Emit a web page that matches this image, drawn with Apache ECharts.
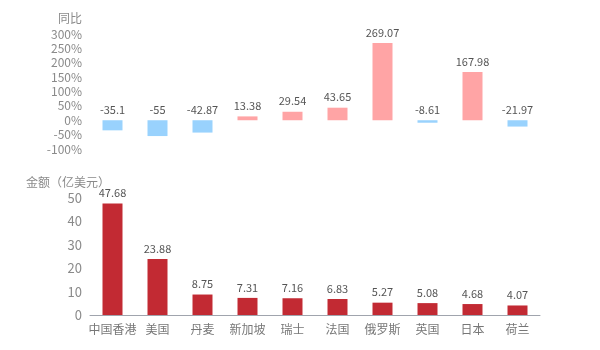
<!DOCTYPE html>
<html>
<head>
<meta charset="utf-8">
<script src="https://cdn.jsdelivr.net/npm/echarts@6/dist/echarts.min.js"></script>
<style>
  html, body { margin: 0; padding: 0; background: #fff; }
  #chart { width: 600px; height: 350px; }
</style>
</head>
<body>
<div id="chart"></div>
<script>
const chart = echarts.init(document.getElementById('chart'));

const countries = ['中国香港', '美国', '丹麦', '新加坡', '瑞士', '法国', '俄罗斯', '英国', '日本', '荷兰'];

// 同比 (%)
const yoy = [-35.1, -55, -42.87, 13.38, 29.54, 43.65, 269.07, -8.61, 167.98, -21.97];

// 金额（亿美元）
const amount = [47.68, 23.88, 8.75, 7.31, 7.16, 6.83, 5.27, 5.08, 4.68, 4.07];

const font = '"Noto Sans CJK SC", "Microsoft YaHei", sans-serif';
const axisGray = '#8a8a8a';

const option = {
  textStyle: { fontFamily: font },
  grid: [
    { left: 90, right: 60, top: 34, height: 115 },
    { left: 90, right: 60, top: 198, height: 117 }
  ],
  xAxis: [
    {
      type: 'category',
      gridIndex: 0,
      data: countries,
      show: false
    },
    {
      type: 'category',
      gridIndex: 1,
      data: countries,
      axisLine: { lineStyle: { color: '#a0a4ad' } },
      axisTick: { alignWithLabel: true, lineStyle: { color: '#a0a4ad' } },
      axisLabel: { color: '#777', fontSize: 12, fontFamily: font, interval: 0 }
    }
  ],
  yAxis: [
    {
      type: 'value',
      gridIndex: 0,
      min: -100,
      max: 300,
      interval: 50,
      name: '同比',
      nameGap: 10,
      nameTextStyle: { color: axisGray, fontSize: 12, fontFamily: font, align: 'right', padding: [0, 8, 0, 0] },
      axisLine: { show: false },
      axisTick: { show: false },
      splitLine: { show: false },
      axisLabel: { color: axisGray, fontSize: 12, fontFamily: font, formatter: '{value}%' }
    },
    {
      type: 'value',
      gridIndex: 1,
      min: 0,
      max: 50,
      interval: 10,
      name: '金额（亿美元）',
      nameGap: 10,
      nameTextStyle: { color: axisGray, fontSize: 12, fontFamily: font, align: 'right', padding: [0, -20, 0, 0] },
      axisLine: { show: false },
      axisTick: { show: false },
      splitLine: { show: false },
      axisLabel: { color: axisGray, fontSize: 13, fontFamily: font }
    }
  ],
  series: [
    {
      type: 'bar',
      xAxisIndex: 0,
      yAxisIndex: 0,
      barWidth: 20,
      data: yoy.map(v => ({
        value: v,
        itemStyle: { color: v >= 0 ? '#ffa4a5' : '#99d2fd' }
      })),
      label: { show: true, position: 'top', color: '#555', fontSize: 11, fontFamily: font }
    },
    {
      type: 'bar',
      xAxisIndex: 1,
      yAxisIndex: 1,
      barWidth: 20,
      data: amount,
      itemStyle: { color: '#c22a33' },
      label: { show: true, position: 'top', color: '#555', fontSize: 11, fontFamily: font }
    }
  ]
};

chart.setOption(option);
</script>
</body>
</html>
